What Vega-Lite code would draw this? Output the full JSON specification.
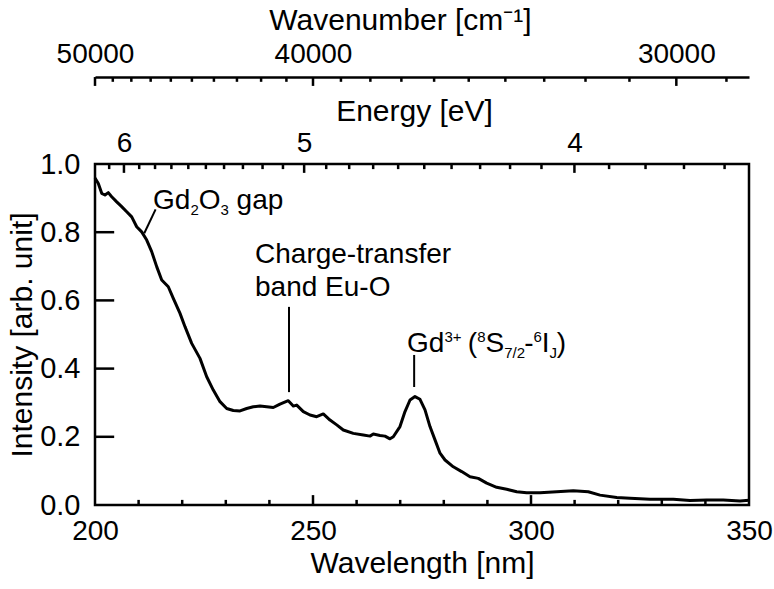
{
  "$schema": "https://vega.github.io/schema/vega-lite/v6.json",
  "autosize": {"type": "none"},
  "padding": {"left": 95, "top": 164, "right": 25, "bottom": 84},
  "width": 654,
  "height": 341,
  "background": "white",
  "config": {
    "view": {"stroke": "black", "strokeWidth": 2.5},
    "axis": {"labelFont": "Liberation Sans", "titleFont": "Liberation Sans", "labelFontSize": 28, "titleFontSize": 30, "labelColor": "black", "titleColor": "black", "titleFontWeight": "normal", "ticks": false, "domainColor": "black", "domainWidth": 2.5, "grid": false, "labelFlush": false, "labelOverlap": false},
    "text": {"font": "Liberation Sans", "color": "black"}
  },
  "datasets": {
    "spec": [
      {"wl": 200.0, "I": 0.959}, {"wl": 200.76, "I": 0.943}, {"wl": 201.54, "I": 0.914}, {"wl": 202.29, "I": 0.909}, {"wl": 203.05, "I": 0.916}, {"wl": 203.83, "I": 0.904}, {"wl": 204.98, "I": 0.889}, {"wl": 206.12, "I": 0.875}, {"wl": 207.27, "I": 0.86}, {"wl": 208.42, "I": 0.845}, {"wl": 209.56, "I": 0.816}, {"wl": 210.71, "I": 0.801}, {"wl": 211.86, "I": 0.777}, {"wl": 213.0, "I": 0.743}, {"wl": 214.15, "I": 0.699}, {"wl": 215.3, "I": 0.66}, {"wl": 216.81, "I": 0.64}, {"wl": 217.96, "I": 0.606}, {"wl": 219.5, "I": 0.562}, {"wl": 220.64, "I": 0.523}, {"wl": 222.18, "I": 0.474}, {"wl": 224.08, "I": 0.43}, {"wl": 225.62, "I": 0.376}, {"wl": 227.13, "I": 0.337}, {"wl": 228.67, "I": 0.303}, {"wl": 230.21, "I": 0.283}, {"wl": 231.72, "I": 0.277}, {"wl": 233.26, "I": 0.276}, {"wl": 234.79, "I": 0.283}, {"wl": 236.31, "I": 0.288}, {"wl": 237.84, "I": 0.29}, {"wl": 239.38, "I": 0.288}, {"wl": 240.89, "I": 0.286}, {"wl": 242.43, "I": 0.296}, {"wl": 244.33, "I": 0.306}, {"wl": 245.48, "I": 0.29}, {"wl": 246.26, "I": 0.293}, {"wl": 247.78, "I": 0.274}, {"wl": 249.31, "I": 0.264}, {"wl": 250.85, "I": 0.259}, {"wl": 252.36, "I": 0.267}, {"wl": 253.9, "I": 0.249}, {"wl": 255.44, "I": 0.235}, {"wl": 256.95, "I": 0.22}, {"wl": 259.24, "I": 0.21}, {"wl": 261.54, "I": 0.205}, {"wl": 263.07, "I": 0.202}, {"wl": 263.83, "I": 0.208}, {"wl": 265.37, "I": 0.204}, {"wl": 266.51, "I": 0.202}, {"wl": 267.66, "I": 0.194}, {"wl": 268.42, "I": 0.2}, {"wl": 269.95, "I": 0.23}, {"wl": 271.1, "I": 0.274}, {"wl": 272.25, "I": 0.308}, {"wl": 273.39, "I": 0.318}, {"wl": 274.54, "I": 0.31}, {"wl": 275.69, "I": 0.279}, {"wl": 276.83, "I": 0.23}, {"wl": 277.98, "I": 0.191}, {"wl": 279.13, "I": 0.152}, {"wl": 280.28, "I": 0.132}, {"wl": 282.18, "I": 0.112}, {"wl": 284.1, "I": 0.098}, {"wl": 286.01, "I": 0.083}, {"wl": 287.91, "I": 0.078}, {"wl": 289.84, "I": 0.064}, {"wl": 292.13, "I": 0.052}, {"wl": 294.43, "I": 0.046}, {"wl": 296.72, "I": 0.039}, {"wl": 299.01, "I": 0.036}, {"wl": 302.06, "I": 0.036}, {"wl": 305.89, "I": 0.039}, {"wl": 309.7, "I": 0.042}, {"wl": 313.14, "I": 0.039}, {"wl": 315.83, "I": 0.029}, {"wl": 319.66, "I": 0.022}, {"wl": 322.71, "I": 0.02}, {"wl": 327.29, "I": 0.017}, {"wl": 332.64, "I": 0.017}, {"wl": 336.47, "I": 0.013}, {"wl": 340.3, "I": 0.015}, {"wl": 344.1, "I": 0.015}, {"wl": 347.94, "I": 0.012}, {"wl": 350.0, "I": 0.014}
    ],
    "tk": [
      {"wl": 250, "ax": "b", "maj": true}, {"wl": 300, "ax": "b", "maj": true},
      {"wl": 210, "ax": "b", "maj": false}, {"wl": 220, "ax": "b", "maj": false}, {"wl": 230, "ax": "b", "maj": false}, {"wl": 240, "ax": "b", "maj": false}, {"wl": 260, "ax": "b", "maj": false}, {"wl": 270, "ax": "b", "maj": false}, {"wl": 280, "ax": "b", "maj": false}, {"wl": 290, "ax": "b", "maj": false}, {"wl": 310, "ax": "b", "maj": false}, {"wl": 320, "ax": "b", "maj": false}, {"wl": 330, "ax": "b", "maj": false}, {"wl": 340, "ax": "b", "maj": false},
      {"wl": 206.64, "ax": "e", "maj": true}, {"wl": 247.968, "ax": "e", "maj": true}, {"wl": 309.96, "ax": "e", "maj": true},
      {"wl": 203.25, "ax": "e", "maj": false}, {"wl": 210.14, "ax": "e", "maj": false}, {"wl": 213.77, "ax": "e", "maj": false}, {"wl": 217.52, "ax": "e", "maj": false}, {"wl": 221.4, "ax": "e", "maj": false}, {"wl": 225.43, "ax": "e", "maj": false}, {"wl": 229.6, "ax": "e", "maj": false}, {"wl": 233.93, "ax": "e", "maj": false}, {"wl": 238.43, "ax": "e", "maj": false}, {"wl": 243.11, "ax": "e", "maj": false}, {"wl": 253.03, "ax": "e", "maj": false}, {"wl": 258.3, "ax": "e", "maj": false}, {"wl": 263.8, "ax": "e", "maj": false}, {"wl": 269.53, "ax": "e", "maj": false}, {"wl": 275.52, "ax": "e", "maj": false}, {"wl": 281.78, "ax": "e", "maj": false}, {"wl": 288.33, "ax": "e", "maj": false}, {"wl": 295.2, "ax": "e", "maj": false}, {"wl": 302.4, "ax": "e", "maj": false}, {"wl": 317.91, "ax": "e", "maj": false}, {"wl": 326.27, "ax": "e", "maj": false}, {"wl": 335.09, "ax": "e", "maj": false}, {"wl": 344.4, "ax": "e", "maj": false},
      {"wl": 200, "ax": "w", "maj": true}, {"wl": 250, "ax": "w", "maj": true}, {"wl": 333.333, "ax": "w", "maj": true},
      {"wl": 204.082, "ax": "w", "maj": false}, {"wl": 208.333, "ax": "w", "maj": false}, {"wl": 212.766, "ax": "w", "maj": false}, {"wl": 217.391, "ax": "w", "maj": false}, {"wl": 222.222, "ax": "w", "maj": false}, {"wl": 227.273, "ax": "w", "maj": false}, {"wl": 232.558, "ax": "w", "maj": false}, {"wl": 238.095, "ax": "w", "maj": false}, {"wl": 243.902, "ax": "w", "maj": false}, {"wl": 256.41, "ax": "w", "maj": false}, {"wl": 263.158, "ax": "w", "maj": false}, {"wl": 270.27, "ax": "w", "maj": false}, {"wl": 277.778, "ax": "w", "maj": false}, {"wl": 285.714, "ax": "w", "maj": false}, {"wl": 294.118, "ax": "w", "maj": false}, {"wl": 303.03, "ax": "w", "maj": false}, {"wl": 312.5, "ax": "w", "maj": false}, {"wl": 322.581, "ax": "w", "maj": false}, {"wl": 344.828, "ax": "w", "maj": false}
    ],
    "ytk": [{"I": 0.2}, {"I": 0.4}, {"I": 0.6}, {"I": 0.8}],
    "lead": [
      {"wl": 211.3, "I": 0.797, "wl2": 213.9, "I2": 0.867},
      {"wl": 244.5, "I": 0.331, "wl2": 244.5, "I2": 0.581},
      {"wl": 273.2, "I": 0.346, "wl2": 273.2, "I2": 0.44}
    ],
    "ann": [
      {"t": "Gd", "wl": 213.3, "I": 0.868, "k": "n"},
      {"t": "2", "wl": 221.88, "I": 0.868, "k": "sub"},
      {"t": "O", "wl": 223.78, "I": 0.868, "k": "n"},
      {"t": "3", "wl": 228.78, "I": 0.868, "k": "sub"},
      {"t": "gap", "wl": 232.48, "I": 0.868, "k": "n"},
      {"t": "Charge-transfer", "wl": 236.7, "I": 0.7097, "k": "n"},
      {"t": "band Eu-O", "wl": 236.7, "I": 0.6129, "k": "n"},
      {"t": "Gd", "wl": 271.56, "I": 0.4487, "k": "n"},
      {"t": "3+", "wl": 280.14, "I": 0.4487, "k": "sup"},
      {"t": "(", "wl": 285.5, "I": 0.4487, "k": "n"},
      {"t": "8", "wl": 287.66, "I": 0.4487, "k": "sup"},
      {"t": "S", "wl": 289.57, "I": 0.4487, "k": "n"},
      {"t": "7/2", "wl": 293.85, "I": 0.4487, "k": "sub"},
      {"t": "-", "wl": 298.45, "I": 0.4487, "k": "n"},
      {"t": "6", "wl": 300.58, "I": 0.4487, "k": "sup"},
      {"t": "I", "wl": 302.48, "I": 0.4487, "k": "n"},
      {"t": "J", "wl": 304.27, "I": 0.4487, "k": "sub"},
      {"t": ")", "wl": 305.9, "I": 0.4487, "k": "n"}
    ]
  },
  "resolve": {"axis": {"x": "independent", "y": "independent"}},
  "layer": [
    {
      "data": {"name": "spec"},
      "mark": {"type": "line", "color": "black", "strokeWidth": 3, "strokeJoin": "round"},
      "encoding": {
        "x": {"field": "wl", "type": "quantitative", "scale": {"domain": [200, 350], "nice": false, "zero": false},
          "axis": {"orient": "bottom", "values": [200, 250, 300, 350], "domain": false, "labelPadding": 12, "title": "Wavelength [nm]", "titlePadding": 3}},
        "y": {"field": "I", "type": "quantitative", "scale": {"domain": [0, 1], "nice": false, "zero": false},
          "axis": {"orient": "left", "values": [0, 0.2, 0.4, 0.6, 0.8, 1.0], "format": ".1f", "domain": false, "labelPadding": 15, "labelFontSize": 29, "title": "Intensity [arb. unit]", "titlePadding": 2}}
      }
    },
    {
      "data": {"name": "spec"},
      "mark": {"type": "point", "opacity": 0},
      "encoding": {
        "x": {"field": "wl", "type": "quantitative",
          "axis": {"orient": "top", "values": [206.64, 247.968, 309.96], "labelExpr": "format(1239.84 / datum.value, '.0f')", "domain": false, "labelPadding": 7, "title": "Energy [eV]", "titlePadding": 3, "titleX": 319, "titleAlign": "center"}},
        "y": {"field": "I", "type": "quantitative", "axis": null}
      }
    },
    {
      "data": {"name": "spec"},
      "mark": {"type": "point", "opacity": 0},
      "encoding": {
        "x": {"field": "wl", "type": "quantitative",
          "axis": {"orient": "top", "offset": 87, "values": [200, 250, 333.3333], "labelExpr": "format(10000000 / datum.value, '.0f')", "domain": true, "labelPadding": 9, "title": "Wavenumber [cm⁻¹]", "titlePadding": 5, "titleX": 305, "titleAlign": "center"}},
        "y": {"field": "I", "type": "quantitative", "axis": null}
      }
    },
    {
      "data": {"name": "tk"},
      "transform": [{"filter": "datum.ax === 'b' && datum.maj"}],
      "mark": {"type": "rule", "color": "black", "strokeWidth": 2.5},
      "encoding": {
        "x": {"field": "wl", "type": "quantitative", "axis": null},
        "y": {"datum": 0, "type": "quantitative", "axis": null},
        "y2": {"datum": 0.029}
      }
    },
    {
      "data": {"name": "tk"},
      "transform": [{"filter": "datum.ax === 'b' && !datum.maj"}],
      "mark": {"type": "rule", "color": "black", "strokeWidth": 2.5},
      "encoding": {
        "x": {"field": "wl", "type": "quantitative", "axis": null},
        "y": {"datum": 0, "type": "quantitative", "axis": null},
        "y2": {"datum": 0.015}
      }
    },
    {
      "data": {"name": "tk"},
      "transform": [{"filter": "datum.ax === 'e' && datum.maj"}],
      "mark": {"type": "rule", "color": "black", "strokeWidth": 2.5},
      "encoding": {
        "x": {"field": "wl", "type": "quantitative", "axis": null},
        "y": {"datum": 1, "type": "quantitative", "axis": null},
        "y2": {"datum": 0.974}
      }
    },
    {
      "data": {"name": "tk"},
      "transform": [{"filter": "datum.ax === 'e' && !datum.maj"}],
      "mark": {"type": "rule", "color": "black", "strokeWidth": 2.5},
      "encoding": {
        "x": {"field": "wl", "type": "quantitative", "axis": null},
        "y": {"datum": 1, "type": "quantitative", "axis": null},
        "y2": {"datum": 0.985}
      }
    },
    {
      "data": {"name": "tk"},
      "transform": [{"filter": "datum.ax === 'w' && datum.maj"}],
      "mark": {"type": "rule", "color": "black", "strokeWidth": 2.5},
      "encoding": {
        "x": {"field": "wl", "type": "quantitative", "axis": null},
        "y": {"datum": 1.255, "type": "quantitative", "axis": null},
        "y2": {"datum": 1.229}
      }
    },
    {
      "data": {"name": "tk"},
      "transform": [{"filter": "datum.ax === 'w' && !datum.maj"}],
      "mark": {"type": "rule", "color": "black", "strokeWidth": 2.5},
      "encoding": {
        "x": {"field": "wl", "type": "quantitative", "axis": null},
        "y": {"datum": 1.255, "type": "quantitative", "axis": null},
        "y2": {"datum": 1.241}
      }
    },
    {
      "data": {"name": "ytk"},
      "mark": {"type": "rule", "color": "black", "strokeWidth": 2.5},
      "encoding": {
        "x": {"datum": 200, "type": "quantitative", "axis": null},
        "x2": {"datum": 204.4},
        "y": {"field": "I", "type": "quantitative", "axis": null}
      }
    },
    {
      "data": {"name": "lead"},
      "mark": {"type": "rule", "color": "black", "strokeWidth": 2},
      "encoding": {
        "x": {"field": "wl", "type": "quantitative", "axis": null},
        "y": {"field": "I", "type": "quantitative", "axis": null},
        "x2": {"field": "wl2"},
        "y2": {"field": "I2"}
      }
    },
    {
      "data": {"name": "ann"},
      "transform": [{"filter": "datum.k === 'n'"}],
      "mark": {"type": "text", "align": "left", "baseline": "alphabetic", "fontSize": 28},
      "encoding": {
        "x": {"field": "wl", "type": "quantitative", "axis": null},
        "y": {"field": "I", "type": "quantitative", "axis": null},
        "text": {"field": "t"}
      }
    },
    {
      "data": {"name": "ann"},
      "transform": [{"filter": "datum.k === 'sub'"}],
      "mark": {"type": "text", "align": "left", "baseline": "alphabetic", "fontSize": 15, "dy": 6},
      "encoding": {
        "x": {"field": "wl", "type": "quantitative", "axis": null},
        "y": {"field": "I", "type": "quantitative", "axis": null},
        "text": {"field": "t"}
      }
    },
    {
      "data": {"name": "ann"},
      "transform": [{"filter": "datum.k === 'sup'"}],
      "mark": {"type": "text", "align": "left", "baseline": "alphabetic", "fontSize": 15, "dy": -10},
      "encoding": {
        "x": {"field": "wl", "type": "quantitative", "axis": null},
        "y": {"field": "I", "type": "quantitative", "axis": null},
        "text": {"field": "t"}
      }
    }
  ]
}
